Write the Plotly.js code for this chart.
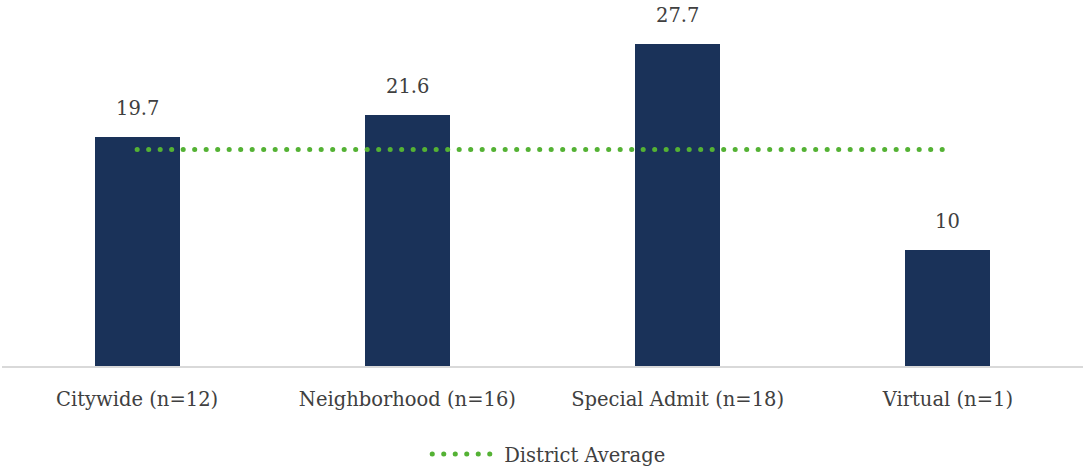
<!DOCTYPE html>
<html>
<head>
<meta charset="utf-8">
<script src="https://cdn.plot.ly/plotly-3.0.1.min.js"></script>
<style>
  html, body { margin: 0; padding: 0; background: #fff; }
  #chart { width: 1083px; height: 466px; }
  /* round dots for the dotted average line */
  .scatterlayer path.js-line, .legendlines path { stroke-linecap: round; }
</style>
</head>
<body>
<div id="chart"></div>
<script>
// School category labels
const categories = ['Citywide (n=12)', 'Neighborhood (n=16)', 'Special Admit (n=18)', 'Virtual (n=1)'];
// Values per category
const values = [19.7, 21.6, 27.7, 10];
// District average drawn across all categories
const districtAvg = [18.6, 18.6, 18.6, 18.6];

const fontFamily = '"DejaVu Serif", serif';
const textColor = '#404040';
const fontSize = 19.5;

const bars = {
  type: 'bar',
  x: categories,
  y: values,
  width: 0.315,
  marker: { color: '#1a3259' },
  showlegend: false,
  hoverinfo: 'x+y'
};

const avgLine = {
  type: 'scatter',
  mode: 'lines',
  name: 'District Average',
  x: categories,
  y: districtAvg,
  line: { color: '#54b234', width: 5, dash: '0.1px,11.4px' }
};

// value labels sitting above each bar
const valueLabels = categories.map((c, i) => ({
  x: c,
  y: values[i],
  xref: 'x',
  yref: 'y',
  text: String(values[i]),
  showarrow: false,
  yanchor: 'bottom',
  yshift: 15,
  font: { family: fontFamily, size: fontSize, color: textColor }
}));

const layout = {
  width: 1083,
  height: 466,
  margin: { l: 2, r: 0, t: 17, b: 100 },
  paper_bgcolor: '#ffffff',
  plot_bgcolor: '#ffffff',
  font: { family: fontFamily, size: fontSize, color: textColor },
  bargap: 0,
  xaxis: {
    automargin: false,
    showline: true,
    linecolor: '#d9d9d9',
    linewidth: 2,
    ticks: '',
    ticklabelstandoff: 15,
    tickfont: { family: fontFamily, size: fontSize, color: textColor },
    showgrid: false,
    zeroline: false,
    fixedrange: true
  },
  yaxis: {
    range: [0, 30],
    visible: false,
    showgrid: false,
    zeroline: false,
    fixedrange: true
  },
  annotations: valueLabels,
  showlegend: true,
  legend: {
    orientation: 'h',
    xref: 'container',
    yref: 'container',
    x: 0.388,
    xanchor: 'left',
    y: 0.025,
    yanchor: 'middle',
    itemwidth: 74,
    font: { family: fontFamily, size: fontSize, color: textColor }
  }
};

Plotly.newPlot('chart', [bars, avgLine], layout, { displayModeBar: false, staticPlot: true })
  .then(gd => {
    // stretch the dotted sample across the wider legend symbol slot
    gd.querySelectorAll('.legendlines path').forEach(p => p.setAttribute('d', 'M12,0h60'));
  });
</script>
</body>
</html>
